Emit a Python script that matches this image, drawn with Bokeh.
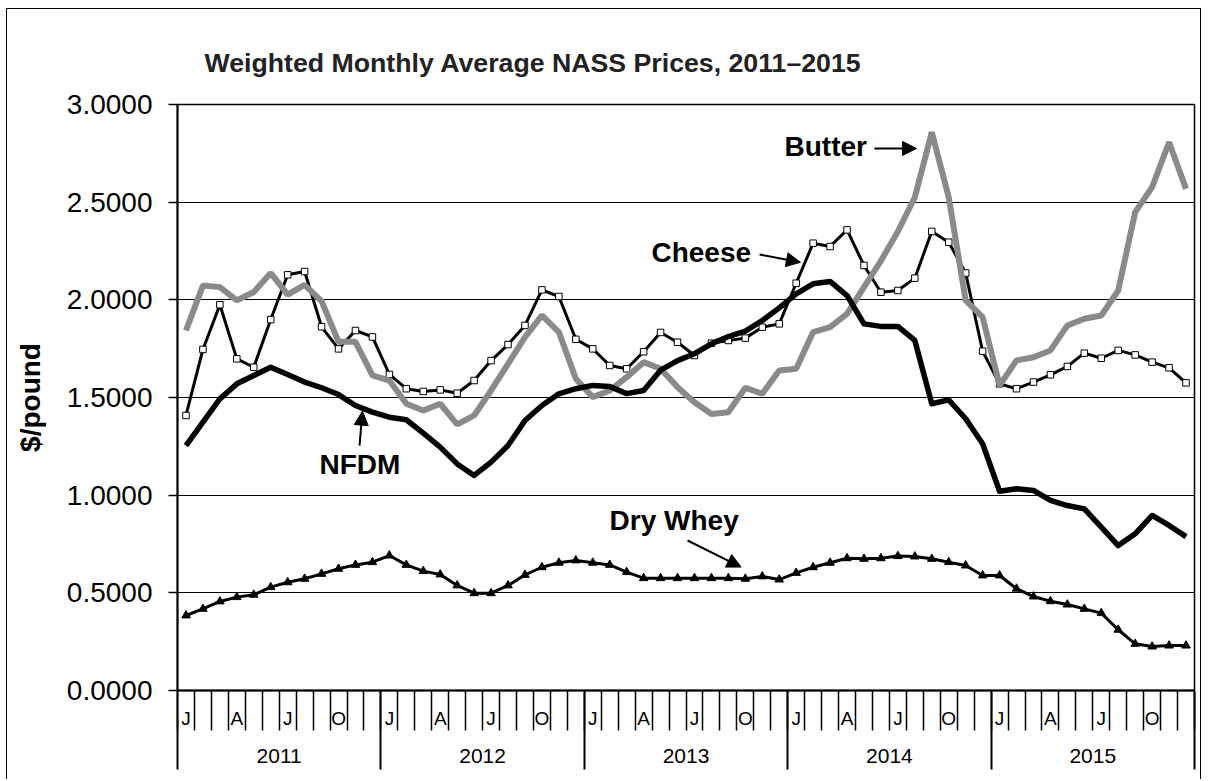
from bokeh.plotting import figure
from bokeh.models import (FixedTicker, LinearAxis, Title, Label, Arrow, NormalHead,
                          Range1d, NumeralTickFormatter)
from bokeh.embed import file_html
from bokeh.resources import INLINE

years = ["2011", "2012", "2013", "2014", "2015"]
month_letters = ["J", "F", "M", "A", "M", "J", "J", "A", "S", "O", "N", "D"]

butter = [1.843, 2.073, 2.065, 1.997, 2.040, 2.137, 2.027, 2.077, 1.993, 1.785, 1.785, 1.613,
          1.587, 1.468, 1.433, 1.468, 1.362, 1.408, 1.536, 1.672, 1.809, 1.920, 1.835, 1.596,
          1.502, 1.536, 1.604, 1.681, 1.647, 1.553, 1.476, 1.416, 1.425, 1.550, 1.519, 1.638,
          1.647, 1.835, 1.860, 1.928, 2.065, 2.200, 2.350, 2.525, 2.858, 2.525, 1.997, 1.911,
          1.562, 1.690, 1.706, 1.741, 1.869, 1.903, 1.920, 2.048, 2.449, 2.577, 2.807, 2.568]

cheese = [1.408, 1.746, 1.975, 1.698, 1.655, 1.899, 2.128, 2.145, 1.862, 1.749, 1.843, 1.810,
          1.618, 1.545, 1.531, 1.539, 1.522, 1.587, 1.689, 1.771, 1.869, 2.051, 2.017, 1.798,
          1.749, 1.664, 1.647, 1.734, 1.833, 1.783, 1.715, 1.778, 1.792, 1.804, 1.860, 1.877,
          2.085, 2.290, 2.273, 2.358, 2.176, 2.039, 2.048, 2.111, 2.350, 2.295, 2.137, 1.737,
          1.570, 1.545, 1.579, 1.616, 1.659, 1.727, 1.701, 1.741, 1.718, 1.681, 1.652, 1.575]

nfdm = [1.254, 1.374, 1.493, 1.570, 1.613, 1.655, 1.618, 1.579, 1.550, 1.515, 1.459, 1.425,
        1.399, 1.386, 1.318, 1.246, 1.160, 1.101, 1.169, 1.254, 1.382, 1.459, 1.519, 1.545,
        1.562, 1.556, 1.520, 1.536, 1.640, 1.689, 1.724, 1.775, 1.812, 1.840, 1.894, 1.959,
        2.031, 2.082, 2.094, 2.022, 1.877, 1.864, 1.864, 1.792, 1.468, 1.488, 1.391, 1.263,
        1.020, 1.033, 1.024, 0.973, 0.947, 0.930, 0.836, 0.742, 0.802, 0.896, 0.845, 0.788]

dry_whey = [0.384, 0.418, 0.456, 0.478, 0.490, 0.529, 0.554, 0.572, 0.597, 0.623, 0.643, 0.657,
            0.691, 0.643, 0.611, 0.594, 0.538, 0.498, 0.498, 0.538, 0.592, 0.631, 0.654, 0.666,
            0.654, 0.643, 0.606, 0.575, 0.575, 0.575, 0.575, 0.575, 0.575, 0.572, 0.584, 0.568,
            0.602, 0.631, 0.654, 0.677, 0.674, 0.677, 0.688, 0.686, 0.674, 0.657, 0.640, 0.589,
            0.589, 0.521, 0.481, 0.457, 0.440, 0.418, 0.396, 0.311, 0.239, 0.225, 0.230, 0.230]

y_ticks = [0.0, 0.5, 1.0, 1.5, 2.0, 2.5, 3.0]

n = len(butter)
xs = [i + 0.5 for i in range(n)]

FONT = "Liberation Sans"
W, H = 1195, 771

p = figure(width=W, height=H, x_range=Range1d(0, n), y_range=Range1d(0, 3),
           output_backend="svg", toolbar_location=None, x_axis_location=None,
           min_border_left=170, min_border_right=8, min_border_top=95,
           min_border_bottom=90)
p.styles = {"margin-left": "6px", "margin-top": "8px",
            "border-top": "1.5px solid black", "border-left": "1.5px solid black",
            "border-right": "1.5px solid black"}
p.background_fill_color = "white"
p.border_fill_color = "white"
p.outline_line_color = "black"
p.outline_line_width = 1.5

for g in p.xgrid:
    g.visible = False
p.ygrid.ticker = FixedTicker(ticks=y_ticks)
p.ygrid.grid_line_color = "black"
p.ygrid.grid_line_width = 1

# y axis
ya = p.yaxis[0]
ya.ticker = FixedTicker(ticks=y_ticks)
ya.formatter = NumeralTickFormatter(format="0.0000")
ya.major_label_text_font = FONT
ya.major_label_text_font_size = "28px"
ya.major_label_text_color = "black"
ya.major_tick_out = 9
ya.major_tick_in = 0
ya.minor_tick_out = 0
ya.major_tick_line_color = "black"
ya.major_tick_line_width = 1.5
ya.axis_line_color = "black"
ya.axis_line_width = 2
ya.major_label_standoff = 16
ya.axis_label = "$/pound"
ya.axis_label_text_font = FONT
ya.axis_label_text_font_style = "bold"
ya.axis_label_text_font_size = "28px"
ya.axis_label_text_color = "black"
ya.axis_label_standoff = 18

# month axis
m_ticks = [i + 0.5 for i in range(0, n, 3)]
ax_m = LinearAxis(
    ticker=FixedTicker(ticks=m_ticks, minor_ticks=list(range(n + 1))),
    major_label_overrides={i + 0.5: month_letters[i % 12] for i in range(0, n, 3)},
    major_tick_out=0, major_tick_in=0,
    minor_tick_out=40, minor_tick_in=0,
    minor_tick_line_color="black", minor_tick_line_width=1.5,
    axis_line_color="black", axis_line_width=2,
    major_label_text_font=FONT, major_label_text_font_size="19px",
    major_label_text_color="black", major_label_standoff=-23)
p.add_layout(ax_m, "below")

# year axis
ax_y = LinearAxis(
    ticker=FixedTicker(ticks=[i * 12 + 6 for i in range(len(years))],
                       minor_ticks=[i * 12 for i in range(len(years) + 1)]),
    major_label_overrides={i * 12 + 6: years[i] for i in range(len(years))},
    major_tick_out=0, major_tick_in=0,
    minor_tick_in=40, minor_tick_out=38,
    minor_tick_line_color="black", minor_tick_line_width=2,
    axis_line_color=None,
    major_label_text_font=FONT, major_label_text_font_size="21px",
    major_label_text_color="black", major_label_standoff=-21)
p.add_layout(ax_y, "below")

# title
p.add_layout(Title(text="Weighted Monthly Average NASS Prices, 2011\u20132015", align="left",
                   offset=27, text_font=FONT, text_font_size="26.7px", text_font_style="bold",
                   text_color="#222222", standoff=54), "above")

# series
p.line(xs, cheese, line_color="black", line_width=3)
p.scatter(xs, cheese, marker="square", size=6.5, fill_color="white", line_color="black", line_width=1)
p.line(xs, butter, line_color="#8a8a8a", line_width=6)
p.line(xs, nfdm, line_color="black", line_width=5.5, line_join="round")
p.line(xs, dry_whey, line_color="black", line_width=3)
p.scatter(xs, dry_whey, marker="triangle", size=8.5, fill_color="black", line_color="black")

# annotations
def lab(x, y, t):
    p.add_layout(Label(x=x, y=y, text=t, text_font=FONT, text_font_style="bold",
                       text_font_size="28px", text_color="black", text_baseline="alphabetic"))

def arr(x0, y0, x1, y1):
    p.add_layout(Arrow(end=NormalHead(size=14, fill_color="black", line_color="black"),
                       x_start=x0, y_start=y0, x_end=x1, y_end=y1,
                       line_color="black", line_width=2))

lab(35.81, 2.786, "Butter")
arr(41.12, 2.775, 43.6, 2.775)
lab(27.96, 2.244, "Cheese")
arr(34.34, 2.232, 36.75, 2.192)
lab(8.38, 1.157, "NFDM")
arr(10.74, 1.254, 10.91, 1.43)
lab(25.49, 0.870, "Dry Whey")
arr(30.09, 0.768, 33.25, 0.632)

open("out.html", "w").write(file_html(p, INLINE))
